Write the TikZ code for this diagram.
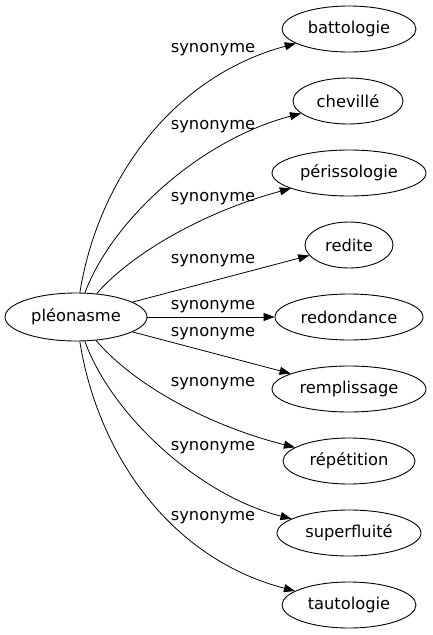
\documentclass[tikz,border=0pt]{standalone}
\usepackage{fontspec}
\setmainfont{DejaVu Sans}
\usetikzlibrary{shapes.geometric,arrows.meta}
\begin{document}
\begin{tikzpicture}[x=1pt,y=-1pt,
  every node/.style={font=\fontsize{16.3}{18}\selectfont},
  word/.style={ellipse,draw,line width=0.9pt,inner sep=0pt,minimum height=46pt},
  lbl/.style={inner sep=0pt},
  syn/.style={line width=0.8pt,-{Triangle[length=11pt,width=8pt]}}]
\useasboundingbox (0,0) rectangle (432,635);
\node[word,minimum width=142pt,minimum height=48pt] (p) at (76,317) {pléonasme};
\node[word,minimum width=134pt] (t1) at (349,29) {battologie};
\node[word,minimum width=110pt] (t2) at (348,101) {chevillé};
\node[word,minimum width=154pt] (t3) at (349,173) {périssologie};
\node[word,minimum width=88pt] (t4) at (349,245) {redite};
\node[word,minimum width=148pt] (t5) at (349,317) {redondance};
\node[word,minimum width=154pt] (t6) at (349,389) {remplissage};
\node[word,minimum width=132pt] (t7) at (349,461) {répétition};
\node[word,minimum width=144pt] (t8) at (349,533) {superfluité};
\node[word,minimum width=134pt] (t9) at (349,605) {tautologie};
\node[lbl] (l1) at (213,50) {synonyme};
\node[lbl] (l2) at (213,127) {synonyme};
\node[lbl] (l3) at (213,199) {synonyme};
\node[lbl] (l4) at (213,261) {synonyme};
\node[lbl] (l5) at (213,307) {synonyme};
\node[lbl] (l6) at (213,334) {synonyme};
\node[lbl] (l7) at (213,384) {synonyme};
\node[lbl] (l8) at (213,448) {synonyme};
\node[lbl] (l9) at (213,518) {synonyme};
\draw[syn] (p) .. controls (97,185) and (168,78) .. (t1);
\draw[syn] (p) .. controls (112,220) and (200,140) .. (t2);
\draw[syn] (p) .. controls (135,250) and (210,210) .. (t3);
\draw[syn] (p) -- (t4);
\draw[syn] (p) -- (t5);
\draw[syn] (p) -- (t6);
\draw[syn] (p) .. controls (135,386) and (210,426) .. (t7);
\draw[syn] (p) .. controls (112,416) and (200,496) .. (t8);
\draw[syn] (p) .. controls (97,451) and (168,558) .. (t9);
\end{tikzpicture}
\end{document}
